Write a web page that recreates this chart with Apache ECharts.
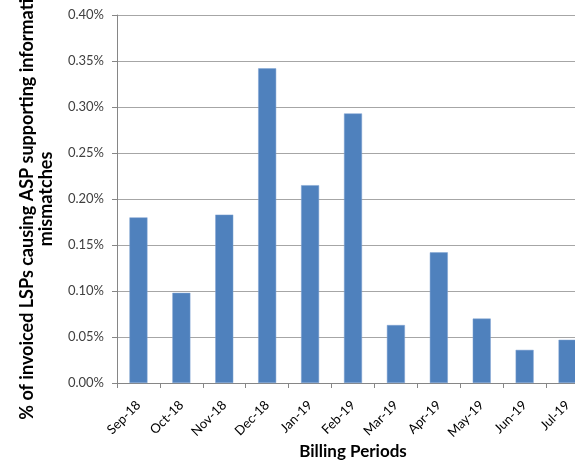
<!DOCTYPE html>
<html>
<head>
<meta charset="utf-8">
<script src="https://cdn.jsdelivr.net/npm/echarts@6/dist/echarts.min.js"></script>
<style>html,body{margin:0;padding:0;background:#fff}#c{width:575px;height:460px}</style>
</head>
<body>
<div id="c"></div>
<script>
const categories = ['Sep-18','Oct-18','Nov-18','Dec-18','Jan-19','Feb-19','Mar-19','Apr-19','May-19','Jun-19','Jul-19'];
const values = [0.180, 0.098, 0.183, 0.342, 0.215, 0.293, 0.063, 0.142, 0.070, 0.036, 0.047];
const yTitle = '% of invoiced LSPs causing ASP supporting information\nmismatches';
const xTitle = 'Billing Periods';

const chart = echarts.init(document.getElementById('c'));
const font = 'Lato, "Open Sans", sans-serif';
chart.setOption({
  animation: false,
  textStyle: { fontFamily: font },
  grid: { left: 117, top: 15, bottom: 77, right: -14, containLabel: false, outerBoundsMode: 'none' },
  xAxis: {
    type: 'category',
    data: categories,
    name: xTitle,
    nameLocation: 'middle',
    nameGap: 60,
    nameMoveOverlap: false,
    nameTextStyle: { fontFamily: font, fontSize: 17, fontWeight: 'bold', color: '#000' },
    axisLine: { lineStyle: { color: '#868686' } },
    axisTick: { show: true, alignWithLabel: false, length: 5, lineStyle: { color: '#868686' } },
    axisLabel: { rotate: 45, fontSize: 13, color: '#000', margin: 20, interval: 0 }
  },
  yAxis: {
    type: 'value',
    min: 0, max: 0.40, interval: 0.05,
    name: yTitle,
    nameLocation: 'middle',
    nameGap: 61,
    nameMoveOverlap: false,
    nameTextStyle: { fontFamily: font, fontSize: 18, fontWeight: 'bold', color: '#000', lineHeight: 19, align: 'center' },
    axisLine: { show: true, lineStyle: { color: '#868686' } },
    axisTick: { show: true, length: 5, lineStyle: { color: '#868686' } },
    splitLine: { lineStyle: { color: '#a6a6a6' } },
    axisLabel: { fontSize: 13, color: '#404040', margin: 13, formatter: v => v.toFixed(2) + '%' }
  },
  series: [{
    type: 'bar',
    data: values,
    barWidth: 18,
    itemStyle: { color: '#4F81BD', borderColor: '#7fa3d3', borderWidth: 0.5 }
  }]
});
</script>
</body>
</html>
